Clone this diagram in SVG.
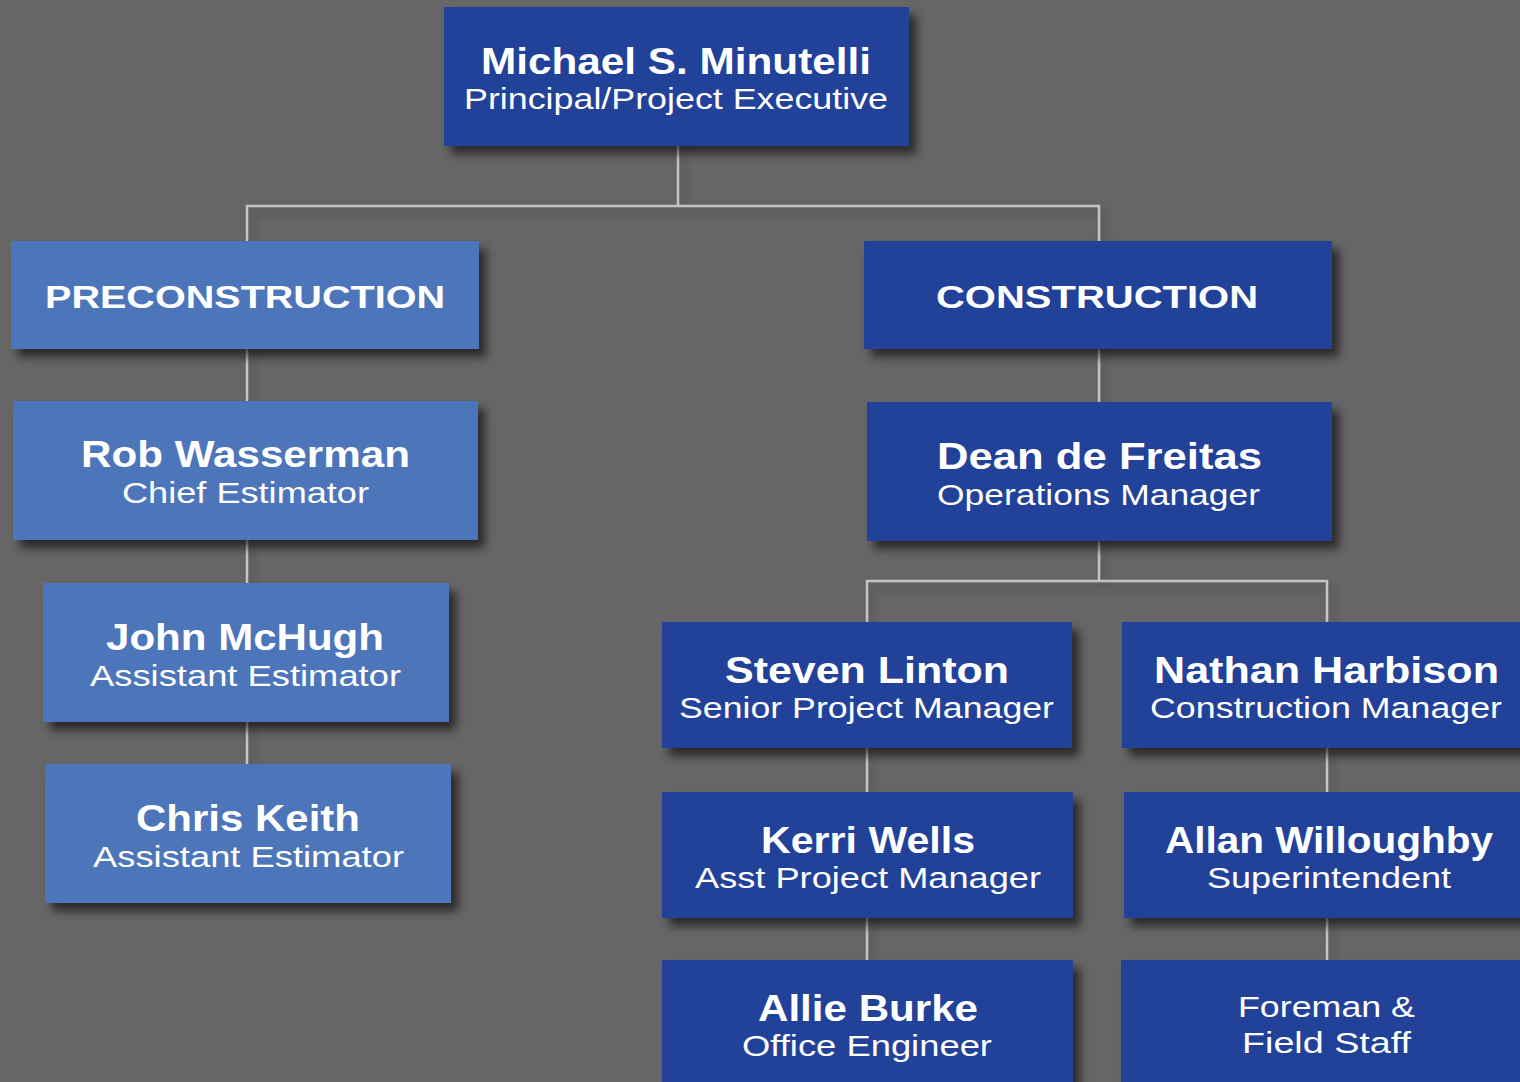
<svg xmlns="http://www.w3.org/2000/svg" width="1520" height="1082" viewBox="0 0 1520 1082">
<defs>
<filter id="sh" x="-10%" y="-20%" width="130%" height="150%">
<feDropShadow dx="7" dy="8" stdDeviation="5" flood-color="#000" flood-opacity="0.6"/>
</filter>
<filter id="lsh" x="-50%" y="-50%" width="200%" height="200%">
<feDropShadow dx="5" dy="6" stdDeviation="4" flood-color="#000" flood-opacity="0.25"/>
</filter>
<style>
.dk{fill:#20429a;filter:url(#sh)}
.lt{fill:#4e75b9;filter:url(#sh)}
.nm{font-family:"Liberation Sans",Arial,sans-serif;font-weight:bold;font-size:36px;fill:#fff;text-anchor:middle}
.tt{font-family:"Liberation Sans",Arial,sans-serif;font-size:29px;fill:#fff;text-anchor:middle}
.hd{font-family:"Liberation Sans",Arial,sans-serif;font-weight:bold;font-size:32px;fill:#fff;text-anchor:middle}
.ln{fill:none;stroke:#c4c4c4;stroke-width:2.5}
</style>
</defs>
<rect width="1520" height="1082" fill="#666666"/>
<g id="connectors" filter="url(#lsh)">
<path class="ln" d="M678 146V206M247 241V206H1099V241"/>
<path class="ln" d="M247 349V401M247 540V583M247 722V764"/>
<path class="ln" d="M1099 349V402M1099 541V581M867 622V581H1327V622"/>
<path class="ln" d="M867 748V792M867 918V960M1327 748V792M1327 918V960"/>
</g>
<g id="n-minutelli">
<rect class="dk" x="444" y="7" width="465" height="139"/>
<text class="nm" x="676" y="74" textLength="390" lengthAdjust="spacingAndGlyphs">Michael S. Minutelli</text>
<text class="tt" x="676" y="109" textLength="424" lengthAdjust="spacingAndGlyphs">Principal/Project Executive</text>
</g>
<g id="n-precon">
<rect class="lt" x="11" y="241" width="468" height="108"/>
<text class="hd" x="245" y="308" textLength="400" lengthAdjust="spacingAndGlyphs">PRECONSTRUCTION</text>
</g>
<g id="n-con">
<rect class="dk" x="864" y="241" width="468" height="108"/>
<text class="hd" x="1097" y="308" textLength="322" lengthAdjust="spacingAndGlyphs">CONSTRUCTION</text>
</g>
<g id="n-wasserman">
<rect class="lt" x="13" y="401" width="465" height="139"/>
<text class="nm" x="245.5" y="467" textLength="329" lengthAdjust="spacingAndGlyphs">Rob Wasserman</text>
<text class="tt" x="245.5" y="503" textLength="247" lengthAdjust="spacingAndGlyphs">Chief Estimator</text>
</g>
<g id="n-mchugh">
<rect class="lt" x="43" y="583" width="406" height="139"/>
<text class="nm" x="245" y="650" textLength="278" lengthAdjust="spacingAndGlyphs">John McHugh</text>
<text class="tt" x="245.5" y="686" textLength="311" lengthAdjust="spacingAndGlyphs">Assistant Estimator</text>
</g>
<g id="n-keith">
<rect class="lt" x="45" y="764" width="406" height="139"/>
<text class="nm" x="248" y="831" textLength="224" lengthAdjust="spacingAndGlyphs">Chris Keith</text>
<text class="tt" x="248.5" y="867" textLength="311" lengthAdjust="spacingAndGlyphs">Assistant Estimator</text>
</g>
<g id="n-defreitas">
<rect class="dk" x="867" y="402" width="465" height="139"/>
<text class="nm" x="1099.5" y="469" textLength="325" lengthAdjust="spacingAndGlyphs">Dean de Freitas</text>
<text class="tt" x="1098.5" y="505" textLength="323" lengthAdjust="spacingAndGlyphs">Operations Manager</text>
</g>
<g id="n-linton">
<rect class="dk" x="662" y="622" width="410" height="126"/>
<text class="nm" x="867" y="683" textLength="284" lengthAdjust="spacingAndGlyphs">Steven Linton</text>
<text class="tt" x="866.5" y="718" textLength="375" lengthAdjust="spacingAndGlyphs">Senior Project Manager</text>
</g>
<g id="n-harbison">
<rect class="dk" x="1122" y="622" width="410" height="126"/>
<text class="nm" x="1326.5" y="683" textLength="345" lengthAdjust="spacingAndGlyphs">Nathan Harbison</text>
<text class="tt" x="1326" y="718" textLength="352" lengthAdjust="spacingAndGlyphs">Construction Manager</text>
</g>
<g id="n-wells">
<rect class="dk" x="662" y="792" width="411" height="126"/>
<text class="nm" x="868" y="853" textLength="214" lengthAdjust="spacingAndGlyphs">Kerri Wells</text>
<text class="tt" x="868" y="888" textLength="346" lengthAdjust="spacingAndGlyphs">Asst Project Manager</text>
</g>
<g id="n-willoughby">
<rect class="dk" x="1124" y="792" width="410" height="126"/>
<text class="nm" x="1329" y="853" textLength="328" lengthAdjust="spacingAndGlyphs">Allan Willoughby</text>
<text class="tt" x="1329" y="888" textLength="244" lengthAdjust="spacingAndGlyphs">Superintendent</text>
</g>
<g id="n-burke">
<rect class="dk" x="662" y="960" width="411" height="140"/>
<text class="nm" x="868" y="1021" textLength="220" lengthAdjust="spacingAndGlyphs">Allie Burke</text>
<text class="tt" x="867" y="1056" textLength="250" lengthAdjust="spacingAndGlyphs">Office Engineer</text>
</g>
<g id="n-foreman">
<rect class="dk" x="1121" y="960" width="410" height="140"/>
<text class="tt" x="1326.5" y="1017" textLength="177" lengthAdjust="spacingAndGlyphs">Foreman &amp;</text>
<text class="tt" x="1326.5" y="1053" textLength="169" lengthAdjust="spacingAndGlyphs">Field Staff</text>
</g>
</svg>
